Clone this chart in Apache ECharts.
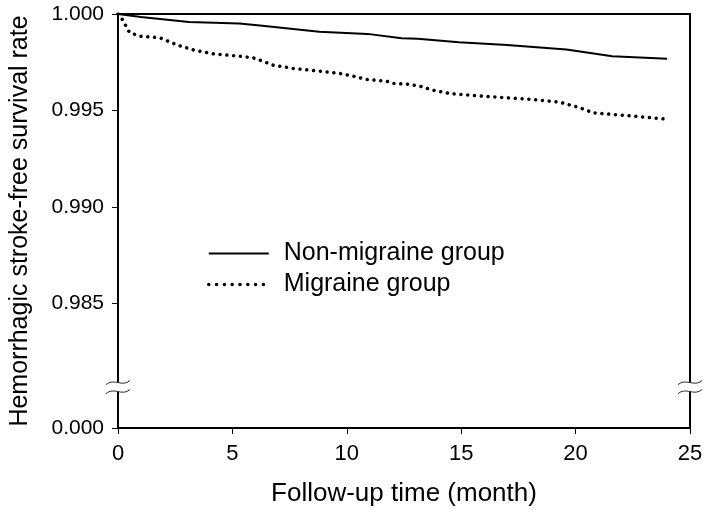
<!DOCTYPE html>
<html>
<head>
<meta charset="utf-8">
<script src="https://cdn.jsdelivr.net/npm/echarts@6/dist/echarts.min.js"></script>
<style>html,body{margin:0;padding:0;background:#fff}#c{width:709px;height:520px}</style>
</head>
<body>
<div id="c"></div>
<script>
// Data (month, survival rate)
const nonMigraineMonths = [0, 1, 3.1, 5.3, 6.2, 8.8, 10.9, 12.4, 13.1, 14.9, 17.0, 19.6, 21.6, 24.0];
const nonMigraineRates  = [1.0, 0.99985, 0.99958, 0.99951, 0.99940, 0.99908, 0.99897, 0.99874, 0.99872, 0.99854, 0.99840, 0.99816, 0.99781, 0.99768];
const migraineMonths = [0, 0.15, 0.51, 0.95, 1.82, 2.19, 2.62, 3.35, 4.15, 5.32, 5.90, 6.34, 6.78, 7.65, 8.82, 9.69, 10.28, 10.86, 11.74, 12.02, 12.6, 13.19, 13.77, 14.50, 15.96, 18.15, 19.31, 20.19, 20.77, 22.52, 24.0];
const migraineRates  = [1.0, 0.99980, 0.99903, 0.99885, 0.99877, 0.99859, 0.99838, 0.99812, 0.99794, 0.99781, 0.99773, 0.99755, 0.99735, 0.99718, 0.99704, 0.99692, 0.99678, 0.99661, 0.99652, 0.99640, 0.99637, 0.99626, 0.99605, 0.99588, 0.99574, 0.99557, 0.99543, 0.99514, 0.99488, 0.99471, 0.99455];
const seriesNames = ['Non-migraine group', 'Migraine group'];
// Broken y axis: the bottom of the axis stands for 0.000
const Y_MIN = 0.97855;
const Y_BREAK = 0.98067;
const yTickValues = [Y_MIN, 0.985, 0.990, 0.995, 1.000];
const yTickLabels = ['0.000', '0.985', '0.990', '0.995', '1.000'];
const xTicks = [0, 5, 10, 15, 20, 25];

const FONT = "'Liberation Sans', Arial, sans-serif";
const chart = echarts.init(document.getElementById('c'), null, {renderer: 'canvas'});
const zip = (a, b) => a.map((v, i) => [v, b[i]]);
const solidStyle = {color: '#000', width: 2};
const dotStyle = {color: '#000', width: 3.5, type: [0.01, 6.8], cap: 'round'};

chart.setOption({
  animation: false,
  backgroundColor: '#fff',
  grid: {left: 118, right: 19, top: 14, bottom: 92, show: true, borderColor: '#000', borderWidth: 2, backgroundColor: 'transparent'},
  legend: {
    orient: 'vertical', left: 207, top: 241, padding: 0, itemWidth: 60, itemHeight: 24, itemGap: 6,
    data: [
      {name: seriesNames[0], lineStyle: solidStyle},
      {name: seriesNames[1], lineStyle: {color: '#000', width: 3.5, type: [0.01, 7.8], cap: 'round'}}
    ],
    itemStyle: {opacity: 0},
    textStyle: {fontFamily: FONT, fontSize: 25, color: '#000', padding: [0, 0, 0, 10]}
  },
  xAxis: {
    type: 'value', min: xTicks[0], max: xTicks[xTicks.length - 1], interval: 5,
    name: 'Follow-up time (month)', nameLocation: 'middle', nameGap: 53,
    nameTextStyle: {fontFamily: FONT, fontSize: 26, color: '#000'},
    axisLine: {lineStyle: {color: '#000', width: 2}},
    axisTick: {length: 6, lineStyle: {color: '#000', width: 1}},
    axisLabel: {fontFamily: FONT, fontSize: 22, color: '#000', margin: 15},
    splitLine: {show: false}
  },
  yAxis: {
    type: 'value', min: Y_MIN, max: 1.0,
    name: 'Hemorrhagic stroke-free survival rate', nameLocation: 'middle', nameGap: 85,
    nameTextStyle: {fontFamily: FONT, fontSize: 25, color: '#000'},
    axisLine: {show: true, lineStyle: {color: '#000', width: 2}},
    axisTick: {show: true, length: 6, customValues: yTickValues, lineStyle: {color: '#000', width: 1}},
    axisLabel: {
      fontFamily: FONT, fontSize: 21, color: '#000', margin: 14, customValues: yTickValues,
      formatter: v => { const i = yTickValues.findIndex(t => Math.abs(t - v) < 1e-7); return i >= 0 ? yTickLabels[i] : ''; }
    },
    splitLine: {show: false}
  },
  series: [
    {name: seriesNames[0], type: 'line', data: zip(nonMigraineMonths, nonMigraineRates), symbol: 'none', smooth: false,
     lineStyle: solidStyle, itemStyle: {color: '#000'}},
    {name: seriesNames[1], type: 'line', data: zip(migraineMonths, migraineRates), symbol: 'none', smooth: false,
     lineStyle: dotStyle, itemStyle: {color: '#000'}}
  ]
});

// Axis-break marks on both vertical borders
function breakMark(xv) {
  const p = chart.convertToPixel({gridIndex: 0}, [xv, Y_BREAK]);
  const x = p[0], y = p[1];
  const curve = dy => ({type: 'bezierCurve', shape: {x1: x - 12, y1: y + dy + 2, x2: x + 12, y2: y + dy - 2, cpx1: x - 4, cpy1: y + dy - 5, cpx2: x + 4, cpy2: y + dy + 5},
    style: {stroke: '#333', lineWidth: 1, fill: null}, z: 100});
  return [
    {type: 'rect', shape: {x: x - 3, y: y - 4.5, width: 6, height: 9}, style: {fill: '#fff'}, z: 99},
    curve(-4.5), curve(4.5)
  ];
}
chart.setOption({graphic: [...breakMark(xTicks[0]), ...breakMark(xTicks[xTicks.length - 1])]});
</script>
</body>
</html>
